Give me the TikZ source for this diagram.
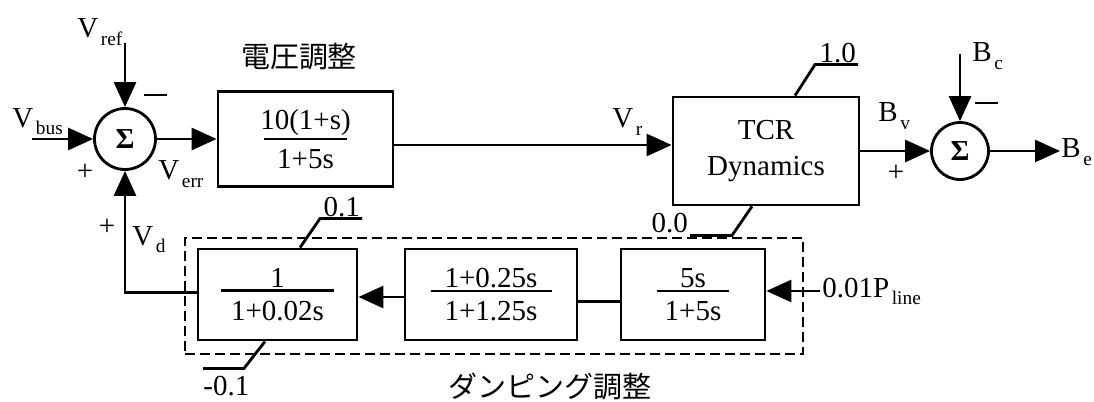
\documentclass[tikz,border=0pt]{standalone}
\usepackage{amsmath}
\usepackage{fontspec}
\setmainfont{Liberation Serif}
\newfontfamily\jpfont{Noto Sans CJK JP}
\usetikzlibrary{arrows.meta,positioning,calc}

% label with a lowered index, e.g. V_ref
\newcommand{\lsub}[2]{#1\kern1.5pt\raisebox{-4.5pt}{\fontsize{11}{11}\selectfont #2}}
% transfer function: numerator, denominator, rule width
\newcommand{\ratio}[3]{\vbox{\hbox to #3{\hss#1\hss}\kern1pt\hrule height1.6pt\kern5pt\hbox to #3{\hss#2\hss}}}
\newcommand{\minussign}{\rule{0.46cm}{1pt}}

\begin{document}
\begin{tikzpicture}[
  font=\fontsize{16.5}{19}\selectfont,
  block/.style={draw,line width=1.6pt,minimum height=1.82cm,inner sep=0pt},
  sumnode/.style={draw,circle,line width=1.6pt,inner sep=0pt,font=\fontsize{16.5}{19}\selectfont\bfseries},
  arrow/.style={-{Triangle[length=0.5cm,width=0.44cm]},line width=1.6pt},
  wire/.style={line width=1.6pt},
  limit/.style={line width=1.6pt},
  dashbox/.style={draw,dash pattern=on 0.2cm off 0.1cm,line width=1.4pt,inner sep=0pt},
  lbl/.style={anchor=base west,inner sep=0pt},
  signlbl/.style={inner sep=0pt},
  title/.style={font=\jpfont\fontsize{16.5}{19}\selectfont}
]
  \useasboundingbox (0,0) rectangle (21.88,8.02);

  % voltage loop
  \node[sumnode,minimum size=1.22cm] (sum1) at (2.50,5.24) {Σ};
  \node[block,minimum width=3.5cm,minimum height=1.9cm] (b1) at (6.11,5.24) {\ratio{10(1+s)}{1+5s}{1.66cm}};
  \node[block,minimum width=3.72cm,minimum height=2.16cm,align=center] (tcr) at (15.32,5.00) {TCR\\[1pt]Dynamics};
  \node[sumnode,minimum size=1.14cm] (sum2) at (19.20,5.00) {Σ};
  \node[title] (vtitle) at (5.98,6.88) {電圧調整};

  \coordinate (vref) at (2.50,7.16);
  \coordinate (vbus) at (0.64,5.24);
  \coordinate (bc) at (19.20,6.94);
  \coordinate (be) at (21.20,5.00);

  \draw[arrow] (vref) -- (sum1.north);
  \draw[arrow] (vbus) -- (sum1.west);
  \draw[arrow] (sum1.east) -- (b1.west);
  \draw[arrow] ([yshift=-0.12cm]b1.east) -- ([yshift=-0.12cm]b1.east -| tcr.west);
  \draw[arrow] (tcr.east) -- (sum2.west);
  \draw[arrow] (bc) -- (sum2.north);
  \draw[arrow] (sum2.east) -- (be);

  % limits of the TCR
  \draw[limit] ([xshift=0.58cm]tcr.north) -- ++(0.40,0.62) -- ++(0.86,0) coordinate (hi1);
  \node[anchor=south east,inner sep=1pt] (hi1lbl) at (hi1) {1.0};
  \draw[limit] ([xshift=-0.28cm]tcr.south) -- ++(-0.40,-0.58) -- ++(-0.84,0) coordinate (lo1);
  \node[anchor=south east,inner sep=1pt] (lo1lbl) at (lo1) {0.0};

  % damping loop
  \node[dashbox,minimum width=12.36cm,minimum height=2.32cm] (damp) at (9.88,2.10) {};
  \node[block,minimum width=3.18cm] (d1) at (5.55,2.13) {\ratio{1}{1+0.02s}{2.26cm}};
  \node[block,minimum width=3.44cm] (d2) at (9.82,2.13) {\ratio{1+0.25s}{1+1.25s}{2.42cm}};
  \node[block,minimum width=2.88cm] (d3) at (13.86,2.13) {\ratio{5s}{1+5s}{1.44cm}};
  \node[title] (dtitle) at (11.00,0.30) {ダンピング調整};

  \coordinate (pin) at (16.40,2.20);
  \draw[arrow] (pin) -- (pin -| d3.east);
  \draw[wire] ([yshift=-0.14cm]d3.west) -- ([yshift=-0.14cm]d3.west -| d2.east);
  \draw[arrow] ([yshift=-0.05cm]d2.west) -- ([yshift=-0.05cm]d2.west -| d1.east);
  \draw[arrow] ([yshift=0.04cm]d1.west) -| (sum1.south);

  \draw[limit] ([xshift=0.45cm]d1.north) -- ++(0.40,0.58) -- ++(0.84,0) coordinate (hi2);
  \node[anchor=south east,inner sep=1pt] (hi2lbl) at (hi2) {0.1};
  \draw[limit] ([xshift=-0.25cm]d1.south) -- ++(-0.42,-0.54) -- ++(-0.82,0) coordinate (lo2);
  \node[anchor=north west,inner sep=0pt] (lo2lbl) at ([yshift=-0.15cm]lo2) {-0.1};

  % signal names
  \node[lbl] (vreflbl) at (1.54,7.26) {\lsub{V}{ref}};
  \node[lbl] (vbuslbl) at (0.24,5.48) {\lsub{V}{bus}};
  \node[lbl] (verrlbl) at (3.16,4.42) {\lsub{V}{err}};
  \node[lbl] (vrlbl) at (12.24,5.46) {\lsub{V}{r}};
  \node[lbl] (bvlbl) at (17.56,5.58) {\lsub{B}{v}};
  \node[lbl] (bclbl) at (19.44,6.78) {\lsub{B}{c}};
  \node[lbl] (belbl) at (21.22,4.86) {\lsub{B}{e}};
  \node[lbl] (vdlbl) at (2.64,3.12) {\lsub{V}{d}};
  \node[lbl] (pinlbl) at (16.44,2.08) {\lsub{0.01P}{line}};

  % signs
  \node[signlbl] (m1) at (3.10,6.12) {\minussign};
  \node[signlbl] (p1) at (1.70,4.58) {+};
  \node[signlbl] (p2) at (2.14,3.48) {+};
  \node[signlbl] (p3) at (17.92,4.56) {+};
  \node[signlbl] (m2) at (19.72,5.96) {\minussign};
\end{tikzpicture}
\end{document}
